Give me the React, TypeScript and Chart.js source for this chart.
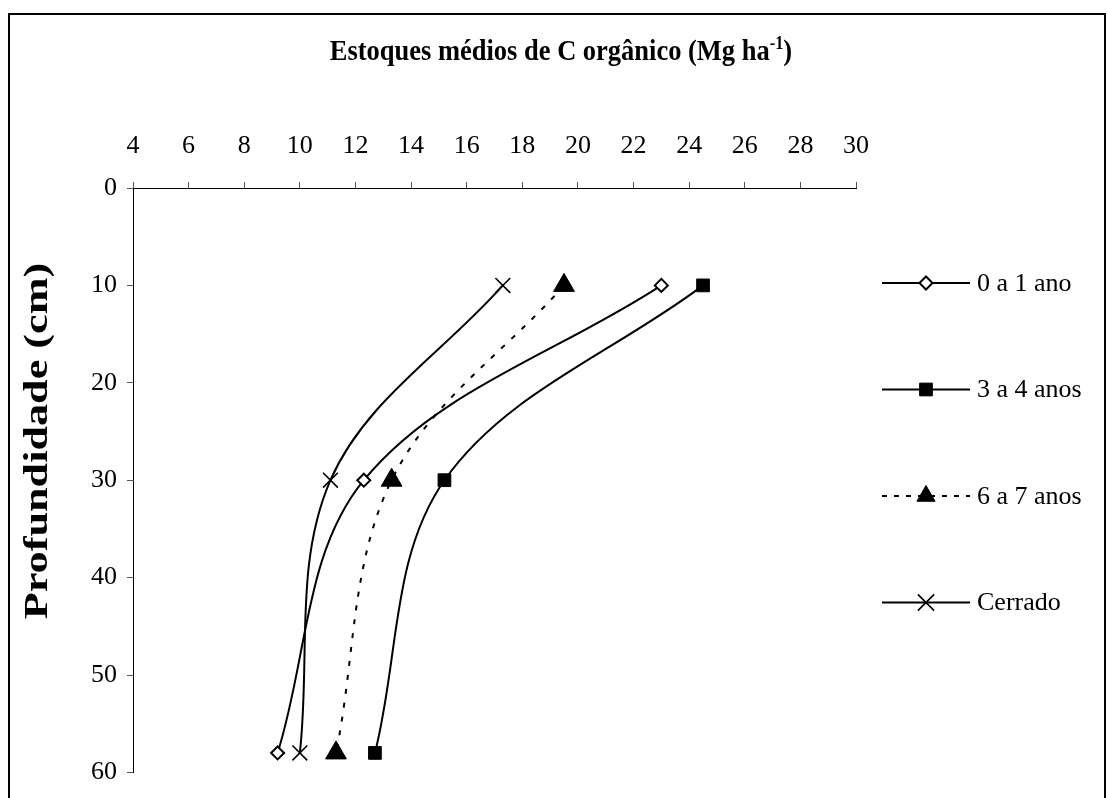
import React, { useEffect, useRef } from "react";
import { Chart, registerables } from "chart.js";
import { drawPoint } from "chart.js/helpers";

Chart.register(...registerables);

// ---- data ----
const depths = [10, 30, 58];
const seriesNames = ["0 a 1 ano", "3 a 4 anos", "6 a 7 anos", "Cerrado"];
const ano0a1 = [23.0, 12.3, 9.2];
const anos3a4 = [24.5, 15.2, 12.7];
const anos6a7 = [19.5, 13.3, 11.3];
const cerrado = [17.3, 11.1, 10.0];
const xMin = 4;
const xMax = 30;
const xStep = 2;
const yMin = 0;
const yMax = 60;
const yStep = 10;
const xTitleMain = "Estoques médios de C orgânico (Mg ha";
const xTitleSup = "-1";
const xTitleEnd = ")";
const yTitle = "Profundidade (cm)";

const FONT = "'Liberation Serif', 'Times New Roman', serif";

const styles = [
  { pointStyle: "rectRot", radius: 6.5, legendRadius: 6.5, bg: "#ffffff", bw: 2, dash: [] as number[], legendDash: [] as number[] },
  { pointStyle: "rect", radius: 9, legendRadius: 9, bg: "#000000", bw: 1, dash: [] as number[], legendDash: [] as number[] },
  { pointStyle: "triangle", radius: 12, legendRadius: 10.5, bg: "#000000", bw: 1, dash: [5, 9], legendDash: [5, 7] },
  { pointStyle: "crossRot", radius: 10.5, legendRadius: 11.5, bg: "#000000", bw: 1.6, dash: [] as number[], legendDash: [] as number[] },
];

const allSeries = [ano0a1, anos3a4, anos6a7, cerrado];

const decorPlugin = {
  id: "decor",
  afterDraw(chart: any) {
    const ctx = chart.ctx as CanvasRenderingContext2D;
    ctx.save();
    ctx.fillStyle = "#000";

    // X title with superscript (slightly condensed)
    const sx = 0.913;
    const mainFont = `bold 29px ${FONT}`;
    const supFont = `bold 18px ${FONT}`;
    ctx.font = mainFont;
    const w1 = ctx.measureText(xTitleMain).width;
    const w3 = ctx.measureText(xTitleEnd).width;
    ctx.font = supFont;
    const w2 = ctx.measureText(xTitleSup).width;
    const total = (w1 + w2 + w3) * sx;
    const cx = 561;
    const by = 60;
    ctx.save();
    ctx.translate(cx - total / 2, by);
    ctx.scale(sx, 1);
    ctx.textAlign = "left";
    ctx.textBaseline = "alphabetic";
    let x = 0;
    ctx.font = mainFont;
    ctx.fillText(xTitleMain, x, 0);
    x += w1;
    ctx.font = supFont;
    ctx.fillText(xTitleSup, x, -11);
    x += w2;
    ctx.font = mainFont;
    ctx.fillText(xTitleEnd, x, 0);
    ctx.restore();

    // Y title (rotated, slightly stretched along its length)
    ctx.save();
    ctx.translate(38, 441);
    ctx.rotate(-Math.PI / 2);
    ctx.scale(1.3, 1);
    ctx.font = `bold 34px ${FONT}`;
    ctx.textAlign = "center";
    ctx.textBaseline = "middle";
    ctx.fillText(yTitle, 0, 0);
    ctx.restore();

    // Legend
    chart.data.datasets.forEach((ds: any, i: number) => {
      const y = 283 + i * 106.5;
      const st = styles[i];
      ctx.save();
      ctx.strokeStyle = "#000";
      ctx.lineWidth = 2;
      ctx.setLineDash(st.legendDash);
      ctx.beginPath();
      ctx.moveTo(882, y);
      ctx.lineTo(970, y);
      ctx.stroke();
      ctx.setLineDash([]);
      ctx.fillStyle = st.bg;
      ctx.strokeStyle = "#000";
      ctx.lineWidth = st.bw;
      drawPoint(
        ctx,
        { pointStyle: st.pointStyle, rotation: 0, radius: st.legendRadius, borderWidth: st.bw } as any,
        926,
        y
      );
      ctx.restore();
      ctx.fillStyle = "#000";
      ctx.font = `26px ${FONT}`;
      ctx.textAlign = "left";
      ctx.textBaseline = "middle";
      ctx.fillText(ds.label, 977, y + 1);
    });
    ctx.restore();
  },
};

export default function App() {
  const ref = useRef<HTMLCanvasElement>(null);
  useEffect(() => {
    const canvas = ref.current!;
    const chart = new Chart(canvas, {
      type: "scatter",
      data: {
        datasets: allSeries.map((vals, i) => ({
          label: seriesNames[i],
          data: depths.map((d, j) => ({ x: vals[j], y: d })),
          showLine: true,
          tension: 0.35,
          borderColor: "#000",
          borderWidth: 2,
          borderDash: styles[i].dash,
          pointStyle: styles[i].pointStyle as any,
          pointRadius: styles[i].radius,
          pointBackgroundColor: styles[i].bg,
          pointBorderColor: "#000",
          pointBorderWidth: styles[i].bw,
          fill: false,
        })),
      },
      options: {
        animation: false,
        responsive: false,
        devicePixelRatio: 1,
        layout: { padding: { left: 0, top: 0, right: 252, bottom: 21 } },
        plugins: {
          legend: { display: false },
          title: { display: false },
          tooltip: { enabled: false },
        },
        scales: {
          x: {
            type: "linear",
            position: "top",
            min: xMin,
            max: xMax,
            ticks: { stepSize: xStep, color: "#000", font: { family: FONT, size: 26 }, padding: 20 },
            grid: { drawOnChartArea: false, drawTicks: true, tickLength: 6, color: "#555" },
            border: { display: true, color: "#000", width: 1 },
            afterFit: (s: any) => {
              s.height = 188;
            },
          },
          y: {
            type: "linear",
            position: "left",
            reverse: true,
            min: yMin,
            max: yMax,
            ticks: { stepSize: yStep, color: "#000", font: { family: FONT, size: 26 }, padding: 10 },
            grid: { drawOnChartArea: false, drawTicks: true, tickLength: 6, color: "#555" },
            border: { display: true, color: "#000", width: 1 },
            afterFit: (s: any) => {
              s.width = 133;
            },
          },
        },
      },
      plugins: [decorPlugin],
    });
    return () => chart.destroy();
  }, []);

  return (
    <div>
      <div
        style={{
          position: "fixed",
          left: 8,
          top: 13,
          width: 1098,
          height: 800,
          boxSizing: "border-box",
          border: "2px solid #000",
          borderBottom: "none",
          background: "#fff",
        }}
      />
      <canvas
        ref={ref}
        width={1108}
        height={798}
        style={{ position: "fixed", left: 0, top: 0, width: 1108, height: 798 }}
      />
    </div>
  );
}
